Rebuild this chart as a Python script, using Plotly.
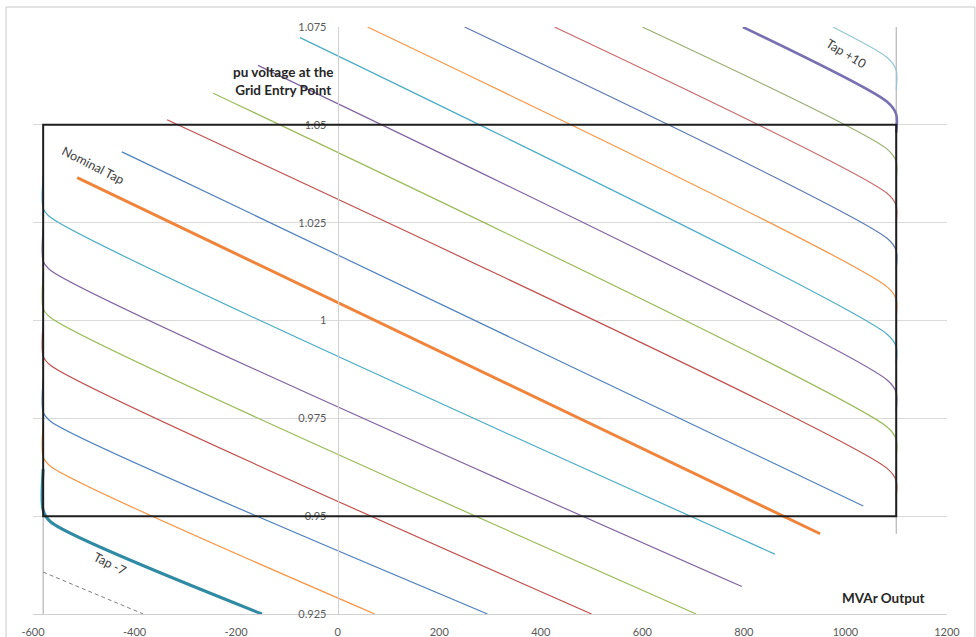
import plotly.graph_objects as go

# Generator reactive limits (MVAr) and the grid-code voltage band (pu)
Q_MIN, Q_MAX = -580, 1100
V_MIN, V_MAX = 0.95, 1.05

# Axis ticks
x_ticks = [-600, -400, -200, 0, 200, 400, 600, 800, 1000, 1200]
y_ticks = [0.925, 0.95, 0.975, 1.0, 1.025, 1.05, 1.075]
y_tick_text = ["0.925", "0.95", "0.975", "1", "1.025", "1.05", "1.075"]

# Reactive limit lines
limit_hi_q = [1100, 1100]
limit_hi_v = [1.075, 0.9455]
limit_lo_q = [-580, -580]
limit_lo_v = [0.95, 0.925]

# Tap characteristics: MVAr output vs pu voltage at the grid entry point
tap_m8_q = [-580, -383]
tap_m8_v = [0.9357, 0.925]
tap_m7_q = [-580, -580, -565, -149]
tap_m7_v = [0.962, 0.9515, 0.9485, 0.925]
tap_m6_q = [-580, -580, -565, 73]
tap_m6_v = [0.9736, 0.9651, 0.9627, 0.925]
tap_m5_q = [-580, -580, -565, 295]
tap_m5_v = [0.9851, 0.9766, 0.9742, 0.925]
tap_m4_q = [-580, -580, -565, 500]
tap_m4_v = [0.9994, 0.9909, 0.9885, 0.925]
tap_m3_q = [-580, -580, -565, 706]
tap_m3_v = [1.0116, 1.0031, 1.0007, 0.925]
tap_m2_q = [-580, -580, -565, 796]
tap_m2_v = [1.0237, 1.0152, 1.0128, 0.9320]
tap_m1_q = [-580, -580, -565, 861]
tap_m1_v = [1.037, 1.0287, 1.0263, 0.9403]
tap_0_q = [-513, 950]
tap_0_v = [1.0365, 0.9455]
tap_p1_q = [-425, 1035]
tap_p1_v = [1.0431, 0.9526]
tap_p2_q = [-336, 1082, 1100, 1100]
tap_p2_v = [1.0513, 0.9622, 0.9590, 0.9550]
tap_p3_q = [-245, 1082, 1100, 1100]
tap_p3_v = [1.0581, 0.9728, 0.9696, 0.9650]
tap_p4_q = [-157, 1082, 1100, 1100]
tap_p4_v = [1.0652, 0.9848, 0.9816, 0.9770]
tap_p5_q = [-74, 1082, 1100, 1100]
tap_p5_v = [1.0723, 0.9965, 0.9933, 0.9890]
tap_p6_q = [59, 1082, 1100, 1100]
tap_p6_v = [1.075, 1.0086, 1.0054, 1.0010]
tap_p7_q = [250, 1082, 1100, 1100]
tap_p7_v = [1.075, 1.0210, 1.0178, 1.0130]
tap_p8_q = [427, 1082, 1100, 1100]
tap_p8_v = [1.075, 1.0325, 1.0293, 1.0250]
tap_p9_q = [600, 1082, 1100, 1100]
tap_p9_v = [1.075, 1.0438, 1.0406, 1.0360]
tap_p10_q = [798, 1082, 1100, 1100]
tap_p10_v = [1.075, 1.0559, 1.0527, 1.0480]
tap_p11_q = [975, 1082, 1100, 1100]
tap_p11_v = [1.075, 1.0672, 1.0640, 1.0590]

BLUE, RED, GREEN, PURPLE, AQUA, ORANGE = (
    "#4F81BD", "#C0504D", "#9BBB59", "#8064A2", "#4BACC6", "#F79646")

series = [
    ("Q limit", limit_hi_q, limit_hi_v, "#A6A6A6", 1, "solid"),
    ("Q limit ", limit_lo_q, limit_lo_v, "#A6A6A6", 1, "solid"),
    ("Tap -8", tap_m8_q, tap_m8_v, "#7F7F7F", 1, "4px,3px"),
    ("Tap -6", tap_m6_q, tap_m6_v, ORANGE, 1.2, "solid"),
    ("Tap -5", tap_m5_q, tap_m5_v, BLUE, 1.2, "solid"),
    ("Tap -4", tap_m4_q, tap_m4_v, RED, 1.2, "solid"),
    ("Tap -3", tap_m3_q, tap_m3_v, GREEN, 1.2, "solid"),
    ("Tap -2", tap_m2_q, tap_m2_v, PURPLE, 1.2, "solid"),
    ("Tap -1", tap_m1_q, tap_m1_v, AQUA, 1.2, "solid"),
    ("Tap +1", tap_p1_q, tap_p1_v, BLUE, 1.2, "solid"),
    ("Tap +2", tap_p2_q, tap_p2_v, RED, 1.2, "solid"),
    ("Tap +3", tap_p3_q, tap_p3_v, GREEN, 1.2, "solid"),
    ("Tap +4", tap_p4_q, tap_p4_v, PURPLE, 1.2, "solid"),
    ("Tap +5", tap_p5_q, tap_p5_v, AQUA, 1.2, "solid"),
    ("Tap +6", tap_p6_q, tap_p6_v, ORANGE, 1.2, "solid"),
    ("Tap +7", tap_p7_q, tap_p7_v, "#5A78B5", 1.2, "solid"),
    ("Tap +8", tap_p8_q, tap_p8_v, "#C76B6A", 1.2, "solid"),
    ("Tap +9", tap_p9_q, tap_p9_v, "#9AAE72", 1.2, "solid"),
    ("Tap +11", tap_p11_q, tap_p11_v, "#93C6D6", 1.2, "solid"),
    ("Tap +10", tap_p10_q, tap_p10_v, "#7770B2", 2.6, "solid"),
    ("Tap -7", tap_m7_q, tap_m7_v, "#2F8AA3", 3, "solid"),
    ("Nominal Tap", tap_0_q, tap_0_v, "#F0843A", 3, "solid"),
]

fig = go.Figure()
for name, q, v, color, width, dash in series:
    fig.add_trace(go.Scatter(
        x=q, y=v, mode="lines", name=name,
        line=dict(color=color, width=width, dash=dash,
                  shape="spline", smoothing=0.8),
        hoverinfo="skip", cliponaxis=True,
    ))

# Operating envelope
fig.add_shape(type="rect", xref="x", yref="y",
              x0=Q_MIN, x1=Q_MAX, y0=V_MIN, y1=V_MAX,
              line=dict(color="#1E1E1E", width=2), layer="above")

# Chart border
fig.add_shape(type="rect", xref="paper", yref="paper",
              x0=-0.0295, x1=1.0306, y0=-0.1, y1=1.034,
              line=dict(color="#C8C8C8", width=1))

FONT = "Lato, 'Liberation Sans', sans-serif"
label_font = dict(family=FONT, size=12.5, color="#404040")

fig.add_annotation(x=-481, y=1.0396, text="Nominal Tap", showarrow=False,
                   textangle=27, font=label_font)
fig.add_annotation(x=1001, y=1.0682, text="Tap +10", showarrow=False,
                   textangle=31, font=label_font)
fig.add_annotation(x=-449, y=0.9380, text="Tap -7", showarrow=False,
                   textangle=27, font=label_font)
fig.add_annotation(x=-106, y=1.0612,
                   text="<b>pu voltage at the<br>Grid Entry Point</b>",
                   showarrow=False, align="center",
                   font=dict(family=FONT, size=13.5, color="#262626"))
fig.add_annotation(x=1074, y=0.9291, text="<b>MVAr Output</b>",
                   showarrow=False,
                   font=dict(family=FONT, size=13.5, color="#262626"))

fig.update_layout(
    width=976, height=637,
    margin=dict(l=33, r=29, t=27, b=23, autoexpand=False),
    paper_bgcolor="white", plot_bgcolor="white",
    showlegend=False,
    xaxis=dict(
        range=[-600, 1200], tickvals=x_ticks,
        ticktext=[str(t) for t in x_ticks],
        showgrid=False, zeroline=False, automargin=False,
        showline=True, linecolor="#D0D0D0", linewidth=1,
        tickfont=dict(family=FONT, size=11, color="#595959"),
        ticks="", ticklabelstandoff=8,
    ),
    yaxis=dict(
        range=[0.92499, 1.07501], tickvals=y_ticks, ticktext=y_tick_text,
        anchor="free", position=1 / 3, automargin=False,
        showgrid=True, gridcolor="#DADADA", gridwidth=1,
        zeroline=False,
        showline=True, linecolor="#D0D0D0", linewidth=1,
        tickfont=dict(family=FONT, size=11, color="#595959"),
        ticks="", ticklabelstandoff=9,
    ),
)

fig.write_html("out.html")
